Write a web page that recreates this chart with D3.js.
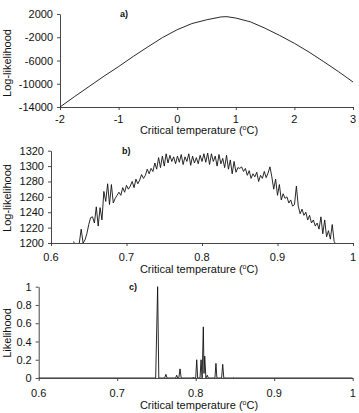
<!DOCTYPE html>
<html lang="en">
<head>
<meta charset="utf-8">
<title>Critical temperature likelihood</title>
<script src="https://d3js.org/d3.v7.min.js"></script>
<style>
  body { margin: 0; background: #fff; }
  text { font-family: "Liberation Sans", Arial, sans-serif; fill: #111; }
</style>
</head>
<body>
<script>
// panel a) log-likelihood over wide range
var tempA = [-2, -1.75, -1.5, -1.25, -1, -0.75, -0.5, -0.25, 0, 0.25, 0.5, 0.75, 0.85, 1, 1.25, 1.5, 1.75, 2, 2.25, 2.5, 2.75, 3];
var logLikA = [-14000, -12200, -10450, -8700, -7050, -5300, -3650, -2050, -700, 350, 1000, 1500, 1540, 1300, 650, -450, -1700, -3050, -4550, -6200, -7900, -9700];

// panel b) log-likelihood, fine grid starting at 0.63, step 0.0025
var tempBStart = 0.63, tempBStep = 0.0025;
var logLikB = [
  1202, 1195, 1190, 1200, 1218, 1200, 1204, 1212, 1224, 1233,
  1234, 1226, 1247, 1222, 1246, 1230, 1267, 1254, 1277, 1250,
  1276, 1252, 1258, 1262, 1266, 1262, 1272, 1266, 1275, 1270,
  1274, 1280, 1272, 1283, 1277, 1282, 1289, 1284, 1288, 1296,
  1290, 1297, 1293, 1304, 1296, 1311, 1298, 1313, 1300, 1316,
  1304, 1314, 1306, 1312, 1303, 1313, 1305, 1315, 1302, 1312,
  1306, 1316, 1301, 1313, 1304, 1311, 1303, 1314, 1306, 1316,
  1305, 1317, 1302, 1316, 1306, 1313, 1300, 1315, 1303, 1310,
  1298, 1314, 1296, 1308, 1290, 1306, 1292, 1298, 1297, 1299,
  1293, 1297, 1288, 1294, 1284, 1290, 1286, 1292, 1280, 1288,
  1284, 1293, 1285, 1291, 1299, 1286, 1270, 1283, 1262, 1276,
  1256, 1264, 1258, 1260, 1252, 1256, 1248, 1250, 1274, 1248,
  1238, 1244, 1236, 1240, 1230, 1236, 1226, 1230, 1222, 1226,
  1218, 1234, 1212, 1230, 1208, 1216, 1205, 1224, 1202, 1198
];
var tempB = logLikB.map(function(d, i) { return tempBStart + i * tempBStep; });

// panel c) likelihood
var tempC = [0.6, 0.749, 0.7515, 0.753, 0.7605, 0.762, 0.7635, 0.7745, 0.7758, 0.777, 0.7785, 0.780, 0.7815,
             0.796, 0.797, 0.798, 0.8, 0.8013, 0.8025, 0.8055, 0.8068, 0.8082, 0.8097, 0.8106, 0.8115, 0.813, 0.8148, 0.816,
             0.8245, 0.8258, 0.827, 0.833, 0.8344, 0.8358, 0.847, 0.848, 0.849, 1];
var likC  = [0, 0, 1, 0, 0, 0.04, 0, 0, 0.03, 0, 0, 0.1, 0,
             0, 0.01, 0, 0, 0.2, 0, 0, 0.2, 0, 0.56, 0.05, 0.24, 0, 0.03, 0,
             0, 0.16, 0, 0, 0.15, 0, 0, 0.005, 0, 0];

var ticksA = [-14000, -10000, -6000, -2000, 2000];
var ticksB = [1200, 1220, 1240, 1260, 1280, 1300, 1320];
var ticksC = [0, 0.2, 0.4, 0.6, 0.8, 1];

var w = 359, h = 413;
var svg = d3.select("body").append("svg").attr("width", w).attr("height", h);

function fmtDec(d) { return d === 1 || d === 0 ? String(d) : d.toFixed(1); }

var panels = [
  {xs: tempA, ys: logLikA, xd: [-2, 3], yd: [-14000, 2000], xr: [60, 353], yr: [107, 14],
   xt: [-2, -1, 0, 1, 2, 3], yt: ticksA, ylab: "Log-likelihood", ylabY: 63, tag: "a)", tagX: 120, tagY: 17,
   tickY: 123, titleY: 134, fmtX: String, fmtY: String},
  {xs: tempB, ys: logLikB, xd: [0.6, 1], yd: [1200, 1320], xr: [51, 353], yr: [243, 150.7],
   xt: [0.6, 0.7, 0.8, 0.9, 1], yt: ticksB, ylab: "Log-likelihood", ylabY: 198, tag: "b)", tagX: 122, tagY: 154,
   tickY: 261, titleY: 273, fmtX: fmtDec, fmtY: String},
  {xs: tempC, ys: likC, xd: [0.6, 1], yd: [0, 1], xr: [38.7, 352.7], yr: [378, 286.7],
   xt: [0.6, 0.7, 0.8, 0.9, 1], yt: ticksC, ylab: "Likelihood", ylabY: 333, tag: "c)", tagX: 129, tagY: 290,
   tickY: 397, titleY: 409, fmtX: fmtDec, fmtY: fmtDec}
];

panels.forEach(function(p, k) {
  var x = d3.scaleLinear().domain(p.xd).range(p.xr);
  var y = d3.scaleLinear().domain(p.yd).range(p.yr);
  var g = svg.append("g");

  // clip so values below the axis are hidden
  g.append("clipPath").attr("id", "clip" + k).append("rect")
    .attr("x", p.xr[0]).attr("y", p.yr[1] - 2)
    .attr("width", p.xr[1] - p.xr[0]).attr("height", p.yr[0] - p.yr[1] + 2);

  var ya = g.append("g").attr("transform", "translate(" + p.xr[0] + ",0)")
    .call(d3.axisLeft(y).tickValues(p.yt).tickSize(3).tickSizeOuter(0).tickPadding(4).tickFormat(p.fmtY));

  var xa = g.append("g").attr("transform", "translate(0," + p.yr[0] + ")")
    .call(d3.axisBottom(x).tickValues(p.xt).tickSize(3).tickSizeOuter(0).tickFormat(""));
  p.xt.forEach(function(t) {
    g.append("text").attr("x", x(t)).attr("y", p.tickY).attr("text-anchor", "middle")
      .attr("font-size", 11).text(p.fmtX(t));
  });

  [ya, xa].forEach(function(a) {
    a.selectAll("path, line").attr("stroke", "#333").attr("stroke-width", 0.9);
    a.selectAll("text").attr("font-size", 11).attr("fill", "#111").attr("font-family", "Liberation Sans, Arial, sans-serif");
  });

  var line = d3.line().x(function(d, i) { return x(p.xs[i]); }).y(function(d) { return y(d); });
  g.append("path").datum(p.ys)
    .attr("clip-path", "url(#clip" + k + ")")
    .attr("fill", "none").attr("stroke", "#111").attr("stroke-width", 0.9)
    .attr("stroke-linejoin", "round").attr("d", line);

  // axis title
  var t = g.append("text").attr("x", 199).attr("y", p.titleY).attr("text-anchor", "middle").attr("font-size", 11);
  t.append("tspan").text("Critical temperature (");
  t.append("tspan").attr("font-size", 7).attr("dy", -4).text("o");
  t.append("tspan").attr("dy", 4).text("C)");

  g.append("text").attr("transform", "translate(11," + p.ylabY + ") rotate(-90)")
    .attr("text-anchor", "middle").attr("font-size", 11).text(p.ylab);

  g.append("text").attr("x", p.tagX).attr("y", p.tagY).attr("font-size", 9)
    .attr("font-weight", "bold").text(p.tag);
});
</script>
</body>
</html>
